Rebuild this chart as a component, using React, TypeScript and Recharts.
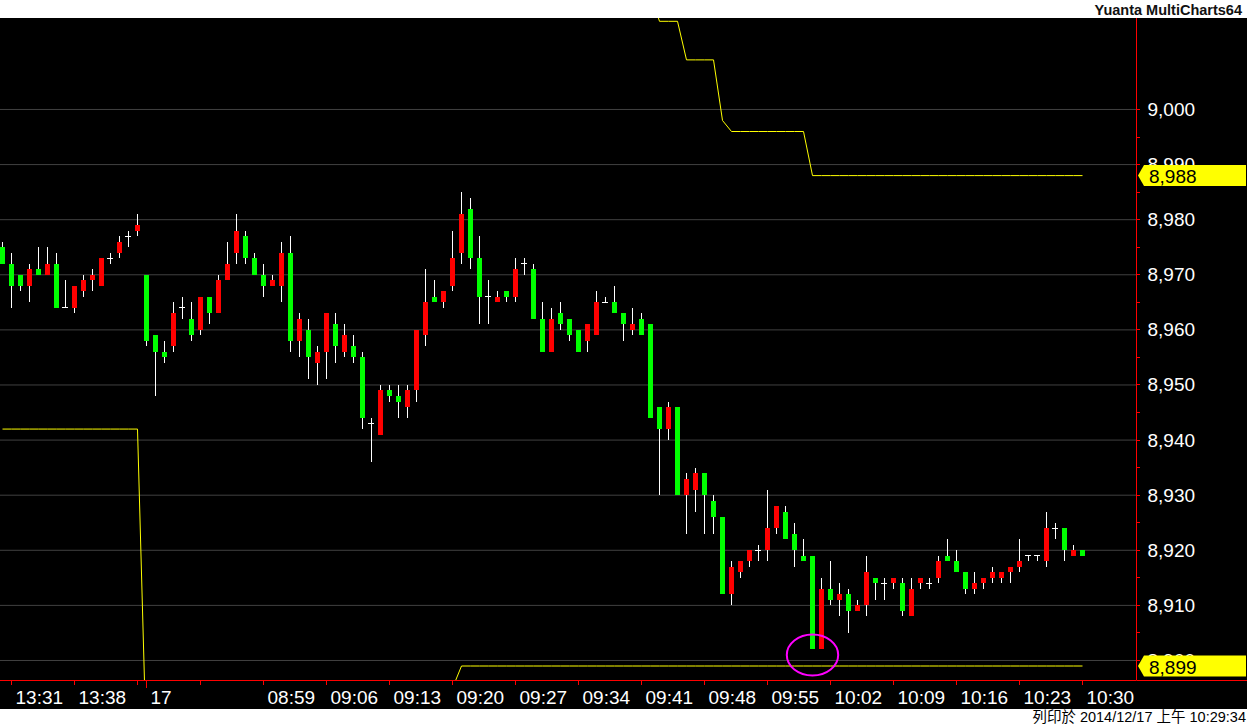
import { ComposedChart, Bar, Line, XAxis, YAxis, CartesianGrid, ReferenceDot } from 'recharts';

// 1-minute bars: 13:30-13:45 (12/16), then 08:46-10:30 (12/17)
const open = [
  8975, 8972, 8970, 8968, 8971, 8970, 8972, 8964, 8964, 8967, 8969, 8968, 8973, 8974, 8977, 8978,
  8970, 8959, 8956, 8957, 8964, 8962, 8960, 8966, 8963, 8969, 8974, 8977, 8973, 8970, 8968, 8968,
  8974, 8958, 8960, 8954, 8956, 8961, 8956, 8957, 8955, 8943, 8941, 8949, 8948, 8946, 8949, 8959,
  8966, 8965, 8968, 8974, 8982, 8973, 8966, 8965, 8967, 8966, 8972, 8971, 8962, 8956, 8963, 8962,
  8960, 8958, 8959, 8965, 8965, 8963, 8960, 8962, 8961, 8946, 8942, 8946, 8930, 8931, 8934, 8929,
  8926, 8912, 8916, 8918, 8920, 8920, 8924, 8927, 8923, 8919, 8919, 8902, 8913, 8911, 8912, 8909,
  8910, 8915, 8914, 8914, 8914, 8908, 8914, 8914, 8915, 8919, 8918, 8916, 8913, 8914, 8915, 8915,
  8916, 8917, 8919, 8919, 8918, 8924, 8924, 8919, 8920,
];
const high = [
  8976, 8974, 8970, 8972, 8975, 8975, 8974, 8969, 8968, 8970, 8971, 8973, 8974, 8977, 8978, 8981,
  8970, 8959, 8958, 8965, 8966, 8965, 8966, 8966, 8970, 8976, 8981, 8978, 8974, 8972, 8970, 8976,
  8977, 8963, 8962, 8957, 8963, 8963, 8961, 8959, 8956, 8944, 8950, 8950, 8950, 8950, 8960, 8971,
  8969, 8967, 8978, 8985, 8984, 8977, 8969, 8967, 8967, 8973, 8973, 8972, 8965, 8964, 8965, 8962,
  8960, 8961, 8967, 8966, 8968, 8963, 8964, 8963, 8961, 8946, 8947, 8946, 8934, 8935, 8934, 8930,
  8926, 8918, 8918, 8920, 8921, 8931, 8928, 8928, 8925, 8922, 8919, 8915, 8918, 8914, 8913, 8911,
  8919, 8915, 8915, 8915, 8915, 8915, 8915, 8915, 8919, 8922, 8920, 8916, 8916, 8915, 8917, 8916,
  8917, 8922, 8919, 8919, 8927, 8925, 8924, 8921, 8920,
];
const low = [
  8972, 8964, 8967, 8965, 8970, 8970, 8964, 8964, 8963, 8966, 8967, 8968, 8972, 8973, 8975, 8977,
  8957, 8948, 8954, 8956, 8962, 8958, 8959, 8961, 8963, 8969, 8972, 8972, 8970, 8966, 8968, 8965,
  8956, 8955, 8951, 8950, 8951, 8954, 8955, 8954, 8942, 8936, 8941, 8947, 8944, 8944, 8947, 8957,
  8965, 8964, 8967, 8972, 8971, 8961, 8961, 8965, 8965, 8965, 8970, 8962, 8956, 8956, 8960, 8958,
  8956, 8956, 8959, 8965, 8963, 8958, 8959, 8959, 8944, 8930, 8940, 8930, 8923, 8927, 8923, 8923,
  8912, 8910, 8915, 8917, 8918, 8918, 8923, 8922, 8917, 8918, 8902, 8902, 8910, 8908, 8905, 8909,
  8908, 8911, 8911, 8913, 8908, 8908, 8913, 8913, 8914, 8918, 8916, 8912, 8912, 8913, 8914, 8914,
  8914, 8916, 8918, 8918, 8917, 8922, 8918, 8919, 8919,
];
const close = [
  8972, 8968, 8968, 8971, 8970, 8972, 8964, 8964, 8968, 8969, 8970, 8973, 8973, 8976, 8977, 8979,
  8958, 8956, 8955, 8963, 8964, 8959, 8966, 8963, 8969, 8972, 8978, 8973, 8970, 8968, 8969, 8974,
  8958, 8962, 8955, 8956, 8963, 8957, 8959, 8955, 8944, 8943, 8949, 8948, 8947, 8949, 8960, 8965,
  8965, 8967, 8973, 8981, 8973, 8966, 8966, 8966, 8966, 8971, 8972, 8962, 8956, 8962, 8961, 8959,
  8956, 8961, 8965, 8965, 8963, 8961, 8961, 8959, 8944, 8942, 8946, 8930, 8933, 8934, 8930, 8926,
  8912, 8917, 8918, 8920, 8920, 8924, 8928, 8922, 8920, 8918, 8902, 8913, 8911, 8912, 8909, 8910,
  8916, 8914, 8914, 8915, 8909, 8913, 8915, 8914, 8918, 8918, 8916, 8913, 8914, 8915, 8916, 8916,
  8917, 8918, 8919, 8919, 8924, 8924, 8920, 8920, 8919,
];

// yellow stop lines
const upperLine = [
  9021, 9021, 9021, 9021, 9021, 9021, 9021, 9021, 9021, 9021, 9021, 9021, 9021, 9021, 9021, 9021,
  9021, 9021, 9021, 9021, 9021, 9021, 9021, 9021, 9021, 9021, 9021, 9021, 9021, 9021, 9021, 9021,
  9021, 9021, 9021, 9021, 9021, 9021, 9021, 9021, 9021, 9021, 9021, 9021, 9021, 9021, 9021, 9021,
  9021, 9021, 9021, 9021, 9021, 9021, 9021, 9021, 9021, 9021, 9021, 9021, 9021, 9021, 9021, 9021,
  9021, 9021, 9021, 9021, 9021, 9021, 9021, 9021, 9021, 9016, 9016, 9016, 9009, 9009, 9009, 9009,
  8998, 8996, 8996, 8996, 8996, 8996, 8996, 8996, 8996, 8996, 8988, 8988, 8988, 8988, 8988, 8988,
  8988, 8988, 8988, 8988, 8988, 8988, 8988, 8988, 8988, 8988, 8988, 8988, 8988, 8988, 8988, 8988,
  8988, 8988, 8988, 8988, 8988, 8988, 8988, 8988, 8988,
];
const lowerLine = [
  8942, 8942, 8942, 8942, 8942, 8942, 8942, 8942, 8942, 8942, 8942, 8942, 8942, 8942, 8942, 8942,
  8883, 8883, 8883, 8883, 8883, 8883, 8883, 8883, 8883, 8883, 8883, 8883, 8883, 8883, 8883, 8883,
  8883, 8883, 8883, 8883, 8883, 8883, 8883, 8883, 8883, 8883, 8883, 8883, 8883, 8883, 8883, 8883,
  8883, 8883, 8895, 8899, 8899, 8899, 8899, 8899, 8899, 8899, 8899, 8899, 8899, 8899, 8899, 8899,
  8899, 8899, 8899, 8899, 8899, 8899, 8899, 8899, 8899, 8899, 8899, 8899, 8899, 8899, 8899, 8899,
  8899, 8899, 8899, 8899, 8899, 8899, 8899, 8899, 8899, 8899, 8899, 8899, 8899, 8899, 8899, 8899,
  8899, 8899, 8899, 8899, 8899, 8899, 8899, 8899, 8899, 8899, 8899, 8899, 8899, 8899, 8899, 8899,
  8899, 8899, 8899, 8899, 8899, 8899, 8899, 8899, 8899,
];

const xTickIndex = [1, 8, 15, 16, 22, 29, 36, 43, 50, 57, 64, 71, 78, 85, 92, 99, 106, 113, 120];
const xTickLabels = ['13:31', '13:38', '', '17', '', '08:59', '09:06', '09:13', '09:20', '09:27', '09:34', '09:41', '09:48', '09:55', '10:02', '10:09', '10:16', '10:23', '10:30'];
const yTicks = [8900, 8905, 8910, 8915, 8920, 8925, 8930, 8935, 8940, 8945, 8950, 8955, 8960, 8965, 8970, 8975, 8980, 8985, 8990, 8995, 9000];
const gridValues = [8900, 8910, 8920, 8930, 8940, 8950, 8960, 8970, 8980, 8990, 9000];
const markedBar = 90;
const markedPrice = 8901;

const lastUpper = upperLine[upperLine.length - 1];
const lastLower = lowerLine[lowerLine.length - 1];
// price tags sit on the price scale, drawn after the normal labels so they cover them
const tagValues = [lastUpper, lastLower];

const data = open.map((o, i) => ({
  i,
  open: o,
  high: high[i],
  low: low[i],
  close: close[i],
  range: [low[i], high[i]],
  upper: upperLine[i],
  lower: lowerLine[i],
}));

const FONT = '"Liberation Sans", Arial, sans-serif';
const PLOT_W = 1136.5;
const X_MIN = -2.5 / 9;
const X_MAX = X_MIN + PLOT_W / 9;
const Y_MIN = 8896.37;
const Y_MAX = 9016.6;

const fmt = (v: number) => v.toLocaleString('en-US');

const Candle = (props: any) => {
  const { x, y, width, height, payload } = props;
  if (x == null || y == null) return null;
  const cx = x + width / 2;
  const top = Math.min(y, y + height);
  const bot = Math.max(y, y + height);
  const ppu = (bot - top) / (payload.high - payload.low || 1);
  const yOf = (v: number) => top + (payload.high - v) * ppu;
  const yo = yOf(payload.open);
  const yc = yOf(payload.close);
  const wick = <rect x={cx - 0.5} y={top} width={1} height={Math.max(bot - top, 1)} fill="#ffffff" />;
  if (payload.open === payload.close) {
    return (
      <g shapeRendering="crispEdges">
        {wick}
        <rect x={cx - 3} y={yo - 0.5} width={6} height={1} fill="#ffffff" />
      </g>
    );
  }
  const color = payload.close > payload.open ? '#ff0000' : '#00ff00';
  return (
    <g shapeRendering="crispEdges">
      {wick}
      <rect x={cx - 2.5} y={Math.min(yo, yc)} width={5} height={Math.abs(yc - yo)} fill={color} />
    </g>
  );
};

const XTick = (props: any) => {
  const { x, y, payload } = props;
  const label = xTickLabels[xTickIndex.indexOf(payload.value)];
  const dayBreak = label === '17';
  return (
    <g>
      <line x1={x} x2={x} y1={y} y2={y + (dayBreak ? 7 : 4)} stroke="#ff0000" shapeRendering="crispEdges" />
      {label ? (
        <text x={x + 4} y={y + 23.5} fill="#ffffff" fontSize={19} fontFamily={FONT} textAnchor="start">
          {label}
        </text>
      ) : null}
    </g>
  );
};

const YTick = (props: any) => {
  const { x, y, payload } = props;
  const v = payload.value;
  if (tagValues.includes(v) && !yTicks.includes(v)) {
    const x0 = x + 1.5;
    const pts = `${x0},${y} ${x0 + 6},${y - 10.5} ${x0 + 108},${y - 10.5} ${x0 + 108},${y + 10.5} ${x0 + 6},${y + 10.5}`;
    return (
      <g>
        <polygon points={pts} fill="#ffff00" />
        <text x={x0 + 11} y={y + 7.5} fill="#000000" fontSize={19} fontFamily={FONT} textAnchor="start">
          {fmt(v)}
        </text>
      </g>
    );
  }
  return (
    <g>
      <line x1={x} x2={x + 3} y1={y} y2={y} stroke="#ff0000" shapeRendering="crispEdges" />
      {v % 10 === 0 ? (
        <text x={x + 11} y={y + 6.5} fill="#ffffff" fontSize={19} fontFamily={FONT} textAnchor="start">
          {fmt(v)}
        </text>
      ) : null}
    </g>
  );
};

const Ring = (props: any) => (
  <ellipse cx={props.cx} cy={props.cy} rx={25.7} ry={20.5} fill="none" stroke="#ff00ff" strokeWidth={2} />
);

export default function App() {
  return (
    <div style={{ position: 'absolute', left: 0, top: 0, width: 1247, height: 725, background: '#ffffff', overflow: 'hidden', fontFamily: FONT }}>
      <div style={{ height: 18, lineHeight: '20px', textAlign: 'right', paddingRight: 5, fontWeight: 'bold', fontSize: 14.5, color: '#111111', overflow: 'hidden' }}>
        Yuanta MultiCharts64
      </div>
      <div style={{ position: 'relative', width: 1247, height: 691, background: '#000000' }}>
        <ComposedChart width={1247} height={691} data={data} margin={{ top: 0, right: 0, bottom: 0, left: 0 }}>
          <CartesianGrid horizontal vertical={false} stroke="#404040" horizontalValues={gridValues} />
          <XAxis
            dataKey="i"
            type="number"
            domain={[X_MIN, X_MAX]}
            allowDataOverflow
            ticks={xTickIndex}
            interval={0}
            height={28.5}
            tickSize={0}
            tickMargin={0}
            tickLine={false}
            axisLine={{ stroke: '#ff0000' }}
            tick={(p: any) => <XTick {...p} />}
          />
          <YAxis
            orientation="right"
            type="number"
            domain={[Y_MIN, Y_MAX]}
            allowDataOverflow
            ticks={[...yTicks, ...tagValues]}
            interval={0}
            width={110.5}
            tickSize={0}
            tickMargin={0}
            tickLine={false}
            axisLine={{ stroke: '#ff0000' }}
            tick={(p: any) => <YTick {...p} />}
          />
          <Bar dataKey="range" shape={(p: any) => <Candle {...p} />} isAnimationActive={false} />
          <Line type="linear" dataKey="upper" stroke="#ffff00" strokeWidth={1} dot={false} activeDot={false} isAnimationActive={false} />
          <Line type="linear" dataKey="lower" stroke="#ffff00" strokeWidth={1} dot={false} activeDot={false} isAnimationActive={false} />
          <ReferenceDot x={markedBar} y={markedPrice} ifOverflow="visible" shape={(p: any) => <Ring {...p} />} />
        </ComposedChart>
        <div style={{ position: 'absolute', left: 1137, top: 662, width: 110, height: 1, background: '#ff0000' }} />
      </div>
      <div style={{ height: 16, lineHeight: '17px', textAlign: 'right', paddingRight: 1, fontSize: 14.5, color: '#000000', fontFamily: `${FONT}, "Noto Sans CJK TC"` }}>
        列印於 2014/12/17 上午 10:29:34
      </div>
    </div>
  );
}
